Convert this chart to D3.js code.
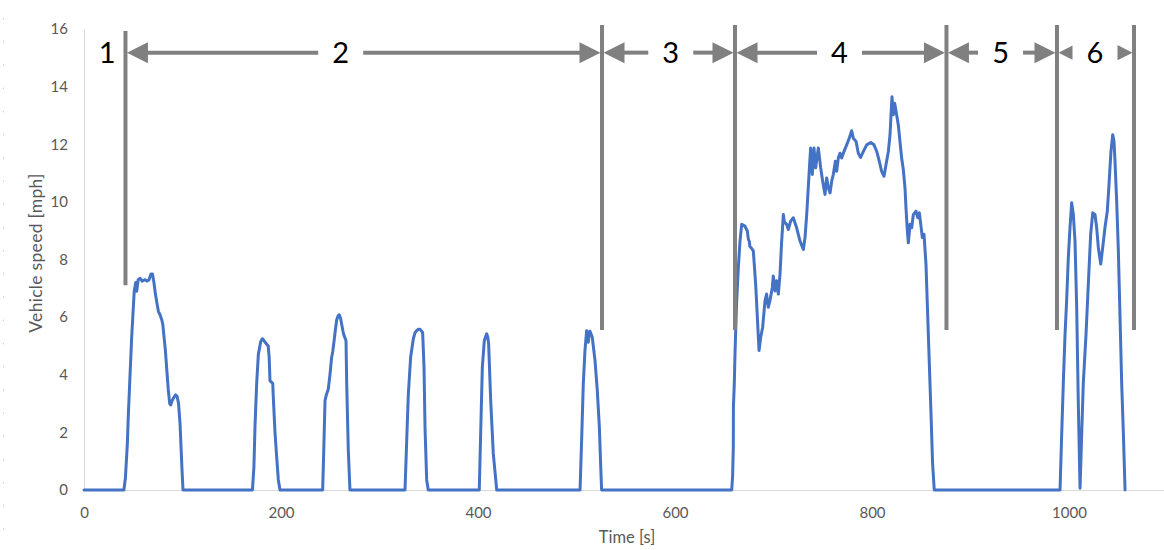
<!DOCTYPE html>
<html>
<head>
<meta charset="utf-8">
<script src="https://cdn.jsdelivr.net/npm/d3@7"></script>
<style>
  html, body { margin: 0; padding: 0; background: #fff; }
  svg { display: block; }
</style>
</head>
<body>
<svg id="chart" width="1164" height="550"></svg>
<script>
// ---- Data ----
const time = [
  0, 40.5, 42, 44, 45, 46.5, 48.4, 50, 51, 52.5, 53.5, 55, 57, 59, 62, 64, 66, 68, 69.5, 71, 72.5, 74, 75.5, 77, 79, 80, 81, 82.5, 84, 85.5, 87, 88, 89.5, 91, 93, 94.5, 96, 97.5, 98.5, 99.5, 100.5,
  171, 172.5, 173.6, 175.3, 177, 179.4, 181, 182, 184.5, 187, 188, 188.8, 190, 191.6, 192.5, 193.9, 195.5, 197.3, 199,
  242.3, 243.5, 244.7, 246, 247, 248, 249.7, 251.4, 252.5, 254, 255, 256.5, 258, 259.2, 260.5, 261.6, 263, 264, 266, 266.7, 268.3, 270,
  325.9, 327.6, 329.3, 331.6, 334.3, 336, 337.7, 339.5, 341.1, 343.8, 345.2, 346.2, 347.9, 349.5,
  401.3, 402.7, 404.4, 406.4, 408.8, 410, 410.8, 412.9, 415.5, 419,
  503.6, 505.2, 506.9, 508.6, 510.3, 512, 513, 513.7, 516, 518.8, 521.1, 523.2, 524.6, 525.5,
  657.6, 658.5, 659.2, 659.3, 660.2, 661, 662.6, 664.3, 666, 667.7, 671, 673.4, 674.5, 675.4, 676, 677.2, 679.5, 681.9, 683.6, 685.3, 687, 689, 691.4, 693, 694.7, 696.4, 698.8, 699.8, 701.5, 703.2, 704.9, 706.6, 708.3, 710, 711, 713.4, 715, 717.4, 720.1, 723.5, 726.9, 730.3, 732, 733.7, 735.3, 736.5, 737.7, 739.4, 741.1, 742.8, 745.5, 747.9, 749.9, 752.3, 754, 755.7, 757.4, 759.1, 760.7, 762.8, 764.1, 765.8, 767.5, 769.2, 770.9, 774.3, 776.9, 779.4, 781, 783.8, 786.1, 788.5, 791.2, 794.6, 798.7, 802, 804.8, 807.4, 809.8, 812.2, 814.2, 816.6, 818.3, 819.3, 820.3, 821.6, 823, 825, 826.7, 828.4, 830.1, 831.8, 833.5, 834.5, 835.9, 836.9, 838.6, 840.3, 842, 844.7, 846.4, 848.1, 849.5, 851.1, 852.8, 854.8, 856.5, 858.2, 859.9, 861.5, 863.2,
  990.9, 992.6, 994.2, 996, 997.6, 999.3, 1001, 1002.7, 1004.4, 1006.1, 1007.8, 1009.4, 1011.2, 1012.9, 1014.5, 1017.3, 1019.6, 1022, 1024.1, 1026.4, 1028.1, 1029.8, 1032.2, 1034.2, 1036.5, 1038.9, 1040.6, 1042.6, 1044.4, 1045.7, 1046.7, 1048.4, 1050.1, 1051.8, 1053.5, 1055.2, 1056.9
];
const speed = [
  0, 0, 0.4, 1.6, 2.6, 3.8, 5.3, 6.3, 6.9, 7.2, 6.9, 7.3, 7.35, 7.25, 7.3, 7.25, 7.3, 7.5, 7.5, 7.2, 6.8, 6.5, 6.2, 6.1, 5.9, 5.75, 5.4, 4.9, 4.2, 3.5, 3.0, 2.95, 3.1, 3.2, 3.3, 3.25, 3.0, 2.3, 1.5, 0.7, 0,
  0, 0.8, 2.2, 3.7, 4.7, 5.15, 5.25, 5.22, 5.1, 5.0, 4.6, 3.8, 3.75, 3.7, 3.0, 2.0, 1.2, 0.35, 0,
  0, 1.5, 3.1, 3.3, 3.4, 3.5, 4.0, 4.6, 4.8, 5.2, 5.5, 5.9, 6.05, 6.08, 5.95, 5.75, 5.5, 5.36, 5.18, 3.7, 1.4, 0,
  0, 1.7, 3.35, 4.6, 5.24, 5.45, 5.53, 5.58, 5.58, 5.47, 4.26, 2.19, 0.35, 0,
  0, 1.96, 4.26, 5.18, 5.42, 5.3, 5.07, 3.1, 1.27, 0,
  0, 1.73, 3.69, 4.84, 5.53, 5.13, 5.5, 5.51, 5.3, 4.49, 3.46, 2.19, 0.8, 0,
  0, 0.5, 1.5, 2.88, 3.69, 4.84, 6.57, 7.72, 8.64, 9.22, 9.16, 8.99, 8.7, 8.64, 8.45, 8.41, 8.3, 7.14, 5.99, 4.84, 5.3, 5.65, 6.57, 6.8, 6.34, 6.57, 7.03, 7.43, 6.91, 7.26, 6.8, 7.49, 8.64, 9.56, 9.3, 9.22, 9.04, 9.33, 9.45, 9.1, 8.64, 8.35, 8.76, 9.56, 10.5, 11.2, 11.87, 10.95, 11.87, 11.18, 11.87, 11.18, 10.72, 10.26, 10.83, 10.48, 10.31, 10.72, 10.95, 11.41, 11.06, 11.52, 11.69, 11.52, 11.69, 11.98, 12.21, 12.47, 12.21, 12.1, 11.69, 11.54, 11.75, 11.98, 12.06, 11.98, 11.75, 11.41, 11.06, 10.89, 11.29, 11.75, 12.33, 13.02, 13.65, 13.02, 13.42, 13.02, 12.67, 12.1, 11.52, 11.12, 10.48, 9.79, 8.99, 8.58, 9.22, 9.1, 9.56, 9.68, 9.45, 9.62, 9.22, 8.76, 8.87, 7.84, 6.11, 4.38, 2.65, 0.92, 0,
  0, 1.96, 3.69, 5.42, 6.57, 8.06, 9.1, 9.97, 9.56, 8.64, 6.34, 3.1, 0.06, 1.96, 3.69, 5.42, 7.14, 8.87, 9.62, 9.56, 9.1, 8.41, 7.84, 8.41, 9.1, 9.68, 10.6, 11.75, 12.33, 12.1, 11.41, 10.02, 8.3, 5.99, 3.69, 1.96, 0
];
const xTicks = [0, 200, 400, 600, 800, 1000];
const yTicks = [0, 2, 4, 6, 8, 10, 12, 14, 16];

// Phase annotations
const phaseBounds = [42.1, 525.9, 660.9, 875.6, 987.8, 1066];
const boundTop = [15.93, 16.14, 16.14, 16.14, 16.14, 16.14];
const boundBottom = [7.11, 5.55, 5.55, 5.55, 5.55, 5.55];
const phaseLabels = ["1", "2", "3", "4", "5", "6"];
const labelTime = [23.4, 260.6, 595.7, 767, 930.5, 1026.4];
const arrowLevel = 15.18;

// ---- Chart ----
const svg = d3.select("#chart");
const x = d3.scaleLinear().domain([0, 1200]).range([84, 84 + 1200 * 0.985]);
const y = d3.scaleLinear().domain([0, 16]).range([490, 29]);

const textColor = "#595959";
const axisColor = "#d9d9d9";
const annoColor = "#808080";

// faint dotted edge artifact
svg.append("line")
  .attr("x1", 3.5).attr("x2", 3.5).attr("y1", 18).attr("y2", 548)
  .attr("stroke", "#d0d0d0").attr("stroke-width", 1)
  .attr("stroke-dasharray", "1.5,21.7");

// Y axis
const yAxis = svg.append("g").attr("transform", `translate(${x(0)},0)`)
  .call(d3.axisLeft(y).tickValues(yTicks).tickSize(0).tickPadding(16).tickSizeOuter(0).tickFormat(d3.format("d")));
yAxis.select(".domain").attr("stroke", axisColor).attr("stroke-width", 1);
yAxis.selectAll("text").attr("fill", textColor).style("font-family", "Lato, sans-serif").style("font-size", "15px");

// X axis
const xAxis = svg.append("g").attr("transform", `translate(0,${y(0)})`)
  .call(d3.axisBottom(x).tickValues(xTicks).tickSize(0).tickPadding(17.5).tickSizeOuter(0).tickFormat(d3.format("d")));
xAxis.select(".domain").attr("stroke", axisColor).attr("stroke-width", 1.2);
xAxis.selectAll("text").attr("fill", textColor).style("font-family", "Lato, sans-serif").style("font-size", "15px");

// Axis titles
svg.append("text")
  .attr("transform", `translate(41.5, 253) rotate(-90)`)
  .attr("text-anchor", "middle")
  .attr("fill", textColor)
  .style("font-family", "Lato, sans-serif").style("font-size", "17.5px")
  .style("letter-spacing", "0.3px")
  .text("Vehicle speed [mph]");
svg.append("text")
  .attr("x", 627).attr("y", 543)
  .attr("text-anchor", "middle")
  .attr("fill", textColor)
  .style("font-family", "Lato, sans-serif").style("font-size", "16.5px")
  .text("Time [s]");

// Speed line
const line = d3.line()
  .x((d, i) => x(time[i]))
  .y((d, i) => y(speed[i]));
svg.append("path")
  .attr("d", line(speed))
  .attr("fill", "none")
  .attr("stroke", "#4472C4")
  .attr("stroke-width", 3)
  .attr("stroke-linejoin", "round")
  .attr("stroke-linecap", "round");

// Phase boundary lines
const anno = svg.append("g");
anno.selectAll("line.bound")
  .data(phaseBounds)
  .join("line")
  .attr("class", "bound")
  .attr("x1", d => x(d)).attr("x2", d => x(d))
  .attr("y1", (d, i) => y(boundTop[i]))
  .attr("y2", (d, i) => y(boundBottom[i]))
  .attr("stroke", annoColor).attr("stroke-width", 4);

// Double arrows with gap for label
const ya = y(arrowLevel);
const gap = 22.5;
const headL = 21, headH = 10.5;
function arrowHead(tipX, dir, len) {
  const h = headH * len / headL;
  const bx = tipX + dir * len;
  anno.append("path")
    .attr("d", `M${tipX},${ya} L${bx},${ya - h} L${bx},${ya + h} Z`)
    .attr("fill", annoColor);
}
for (let i = 1; i < phaseBounds.length; i++) {
  const xl = x(phaseBounds[i - 1]) + 1.5;
  const xr = x(phaseBounds[i]) - 1.5;
  const xc = x(labelTime[i]);
  const leftEnd = xc - gap, rightStart = xc + gap;
  const lenL = Math.min(headL, leftEnd - xl);
  const lenR = Math.min(headL, xr - rightStart);
  arrowHead(xl, 1, lenL);
  arrowHead(xr, -1, lenR);
  if (leftEnd > xl + lenL) {
    anno.append("line").attr("x1", xl + lenL - 1).attr("x2", leftEnd)
      .attr("y1", ya).attr("y2", ya).attr("stroke", annoColor).attr("stroke-width", 4);
  }
  if (xr - lenR > rightStart) {
    anno.append("line").attr("x1", rightStart).attr("x2", xr - lenR + 1)
      .attr("y1", ya).attr("y2", ya).attr("stroke", annoColor).attr("stroke-width", 4);
  }
}

// Phase labels
anno.selectAll("text.phase")
  .data(phaseLabels)
  .join("text")
  .attr("class", "phase")
  .attr("x", (d, i) => x(labelTime[i]))
  .attr("y", ya + 10.5)
  .attr("text-anchor", "middle")
  .attr("fill", "#000")
  .style("font-family", "Lato, sans-serif")
  .style("font-size", "29px")
  .text(d => d);
</script>
</body>
</html>
